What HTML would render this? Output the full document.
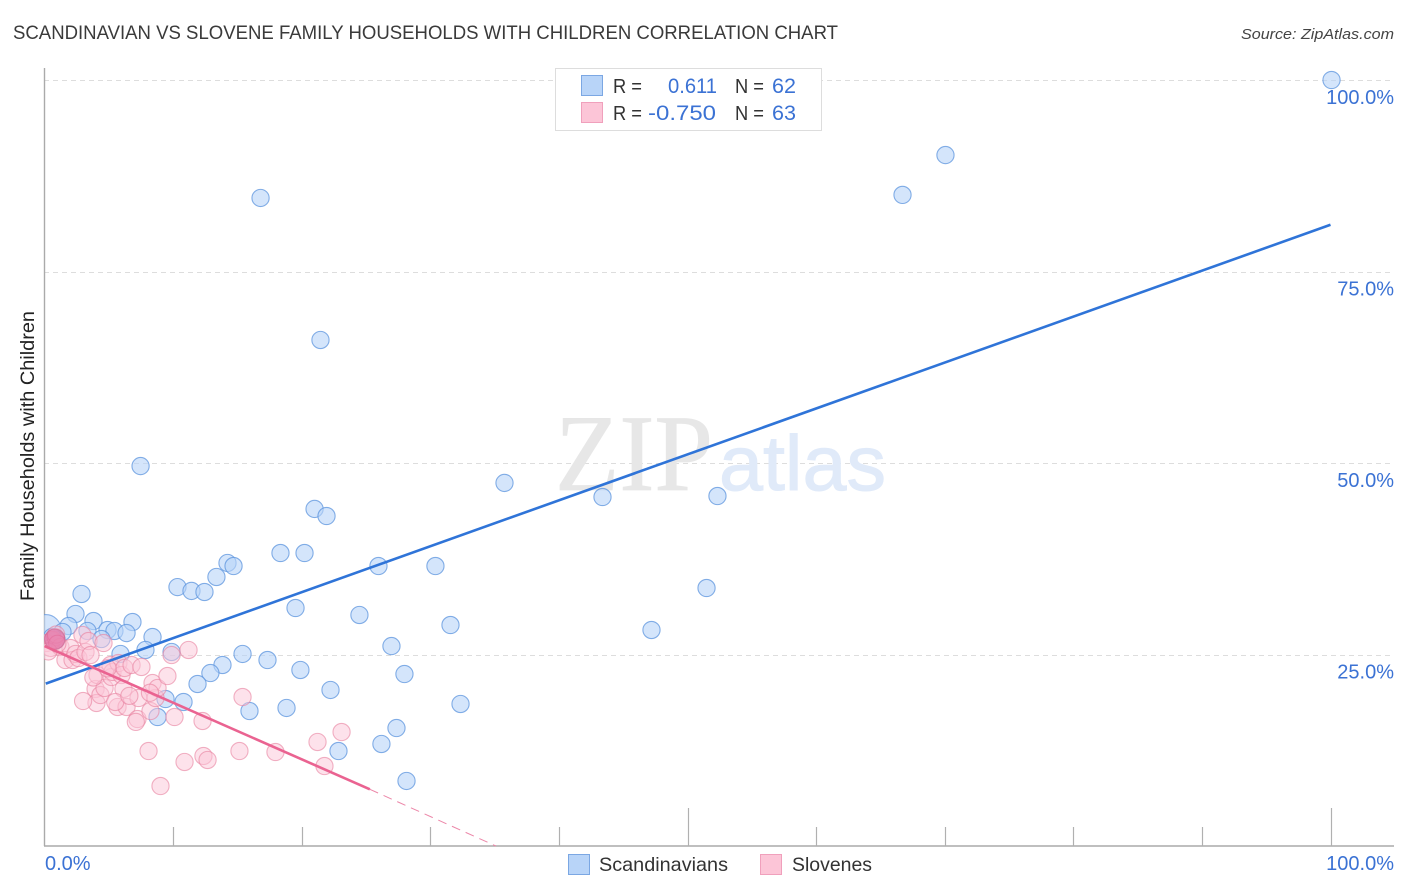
<!DOCTYPE html>
<html lang="en">
<head>
<meta charset="utf-8">
<title>Scandinavian vs Slovene Family Households with Children Correlation Chart</title>
<style>
html,body{margin:0;padding:0;background:#fff;}
body{width:1406px;height:892px;overflow:hidden;}
svg{display:block;font-family:"Liberation Sans",sans-serif;}
</style>
</head>
<body>
<svg id="chart" width="1406" height="892" viewBox="0 0 1406 892" xmlns="http://www.w3.org/2000/svg">
  <defs><clipPath id="plot-clip"><rect x="44" y="60" width="1360" height="786"/></clipPath></defs>
  <rect width="1406" height="892" fill="#ffffff"/>
  <text x="13" y="39" font-size="19.5" fill="#3a3a3a" textLength="825" lengthAdjust="spacingAndGlyphs">SCANDINAVIAN VS SLOVENE FAMILY HOUSEHOLDS WITH CHILDREN CORRELATION CHART</text>
  <text x="1394" y="39" font-size="15" font-style="italic" fill="#444444" text-anchor="end" textLength="153" lengthAdjust="spacingAndGlyphs">Source: ZipAtlas.com</text>
  <text transform="translate(34,456) rotate(-90)" font-size="19" fill="#222222" text-anchor="middle" textLength="290" lengthAdjust="spacingAndGlyphs">Family Households with Children</text>
  <g id="grid"></g>
  <text x="555" y="490" font-family="'Liberation Serif',serif" font-size="109" fill="#e7e7e7" stroke="#e7e7e7" stroke-width="0.8" textLength="158" lengthAdjust="spacingAndGlyphs">ZIP</text>
  <text x="719" y="490" font-size="78" fill="#e0eaf9" stroke="#e0eaf9" stroke-width="1" textLength="167" lengthAdjust="spacingAndGlyphs">atlas</text>
  <g id="axes"></g>
  <g id="points-blue" clip-path="url(#plot-clip)"></g>
  <g id="points-pink" clip-path="url(#plot-clip)"></g>
  <g id="trends"></g>
  <g id="tick-labels"></g>

  <g>
    <rect x="555.5" y="68.5" width="266" height="62" fill="#ffffff" stroke="#dddddd"/>
    <rect x="581.5" y="75.5" width="21" height="20" fill="#b8d4f8" stroke="#7ba7e3"/>
    <rect x="581.5" y="102.5" width="21" height="20" fill="#fcc5d7" stroke="#f0a0bc"/>
    <g font-size="20" fill="#333333">
      <text x="613" y="93" textLength="29" lengthAdjust="spacingAndGlyphs">R =</text>
      <text x="735" y="93" textLength="29" lengthAdjust="spacingAndGlyphs">N =</text>
      <text x="613" y="120" textLength="29" lengthAdjust="spacingAndGlyphs">R =</text>
      <text x="735" y="120" textLength="29" lengthAdjust="spacingAndGlyphs">N =</text>
    </g>
    <g font-size="21.5" fill="#3b72d4">
      <text x="668" y="93" textLength="49" lengthAdjust="spacingAndGlyphs">0.611</text>
      <text x="772" y="93" textLength="24" lengthAdjust="spacingAndGlyphs">62</text>
      <text x="648" y="120" textLength="68" lengthAdjust="spacingAndGlyphs">-0.750</text>
      <text x="772" y="120" textLength="24" lengthAdjust="spacingAndGlyphs">63</text>
    </g>
  </g>

  <g>
    <rect x="568.5" y="854.5" width="21" height="20" fill="#b8d4f8" stroke="#7ba7e3"/>
    <text x="599" y="871" font-size="19.5" fill="#333333" textLength="129" lengthAdjust="spacingAndGlyphs">Scandinavians</text>
    <rect x="760.5" y="854.5" width="21" height="20" fill="#fcc5d7" stroke="#f0a0bc"/>
    <text x="792" y="871" font-size="19.5" fill="#333333" textLength="80" lengthAdjust="spacingAndGlyphs">Slovenes</text>
  </g>
</svg>
<script>
const scandinaviansX = [100.08,70.06,66.72,16.8,21.46,7.47,35.77,43.39,52.33,21.0,21.93,18.35,20.22,14.23,14.7,25.97,30.4,13.37,10.34,11.43,12.44,51.48,2.88,19.52,24.49,2.41,3.81,6.84,31.57,1.87,47.2,3.34,4.9,5.44,6.38,1.4,8.4,4.43,0.93,7.85,9.88,26.98,15.4,5.91,17.34,19.9,27.99,13.84,12.9,11.9,22.24,9.41,10.81,32.35,15.94,18.82,8.79,27.37,26.2,22.86,28.15,0.6];
const scandinaviansY = [100,90.2,85.0,84.6,66.06,49.6,47.4,45.56,45.69,44.0,43.08,38.25,38.25,36.95,36.55,36.55,36.55,35.12,33.8,33.3,33.16,33.68,32.9,31.07,30.16,30.29,29.37,29.24,28.85,28.72,28.2,28.07,28.2,28.07,27.8,27.94,27.28,27.02,26.9,25.59,25.33,26.1,25.07,25.07,24.28,22.98,22.45,23.63,22.58,21.15,20.37,19.19,18.8,18.54,17.62,18.02,16.84,15.4,13.32,12.4,8.49,27.3];
const slovenesX = [0.16,0.47,0.62,0.86,1.24,1.63,2.02,2.18,2.41,2.64,2.95,3.19,3.42,3.58,3.97,4.04,4.12,4.35,4.59,4.67,5.13,5.21,5.29,5.68,5.75,5.99,6.14,6.22,6.38,6.77,7.23,7.31,7.54,8.09,8.24,8.4,8.63,8.79,9.02,9.56,9.88,10.11,10.89,11.2,12.29,12.36,12.68,15.16,15.4,17.96,21.23,21.77,23.1,0.3,0.9,1.0,3.0,4.9,5.5,6.6,7.1,8.2,3.8];
const slovenesY = [26.5,25.85,26.89,27.28,25.98,24.28,25.85,24.28,25.07,24.54,27.55,25.33,26.76,24.93,20.5,18.67,22.32,19.71,26.5,20.63,23.63,22.06,22.72,18.15,23.89,22.32,20.5,23.24,18.15,23.63,16.58,19.32,23.37,12.4,17.62,21.28,19.32,20.63,7.83,22.19,24.93,16.84,10.97,25.59,16.32,11.75,11.23,12.4,19.45,12.27,13.58,10.44,14.88,25.4,27.6,26.4,18.93,23.2,18.8,19.6,16.2,20.0,22.0];
const scandinaviansLargeX = [0.1,0.8];
const scandinaviansLargeY = [28.2,27.0];
const scandinaviansLargeCount = [3.2,1.4];
const slovenesLargeX = [0.8];
const slovenesLargeY = [27.0];
const slovenesLargeCount = [1.4];
const blueTrendX = [0.1,100];
const blueTrendY = [21.2,81.1];
const pinkTrendX = [0,25.3];
const pinkTrendY = [26.1,7.4];
const pinkDashX = [25.3,35.1];
const pinkDashY = [7.4,0];
const xTicks = [0,10,20,30,40,50,60,70,80,90,100];
const yGridValues = [25,50,75,100];
const yTickLabels = ["25.0%","50.0%","75.0%","100.0%"];
const xEndLabels = ["0.0%","100.0%"];

const NS = "http://www.w3.org/2000/svg";
function xScale(v){ return 44.5 + v * 12.86; }
function yScale(v){ return 846 - v * 7.66; }
function make(tag, attrs, parent){
  const el = document.createElementNS(NS, tag);
  for (const k in attrs) el.setAttribute(k, attrs[k]);
  parent.appendChild(el);
  return el;
}

const grid = document.getElementById("grid");
yGridValues.forEach(function(v){
  const y = Math.round(yScale(v)) + 0.5;
  const line = make("line", {x1:44, x2:1394, y1:y, y2:y, stroke:"#dddddd", "stroke-width":1, "stroke-dasharray":"5 4"}, grid);
  
  
});

const axes = document.getElementById("axes");
const yAxis = make("line", {x1:44.5, x2:44.5, y1:68, y2:846, stroke:"#aaaaaa", "stroke-width":1.4}, axes);


const xAxis = make("line", {x1:44, x2:1394, y1:846, y2:846, stroke:"#aaaaaa", "stroke-width":1.4}, axes);


xTicks.forEach(function(v){
  if (v === 0) return;
  const x = Math.round(xScale(v)) + 0.5;
  const major = v === 50 || v === 100;
  const tick = make("line", {x1:x, x2:x, y1:major ? 808 : 827, y2:846, stroke:"#b0b0b0", "stroke-width":1.2}, axes);
  
  
});

function drawPoint(parent, xv, yv, r, fill, stroke, strokeOpacity, fillOpacity){
  const c = make("circle", {cx:xScale(xv), cy:yScale(yv), r:r, fill:fill, "fill-opacity":fillOpacity, stroke:stroke, "stroke-opacity":strokeOpacity, "stroke-width":1.1}, parent);
  return c;
}
const blueGroup = document.getElementById("points-blue");
const pinkGroup = document.getElementById("points-pink");
scandinaviansLargeX.forEach(function(xv, i){
  const c = drawPoint(blueGroup, xv, scandinaviansLargeY[i], 8.6 * Math.sqrt(scandinaviansLargeCount[i]), "#b8d4f8", "#5c94de", 0.7, 0.6);
  
  
});
scandinaviansX.forEach(function(xv, i){
  const c = drawPoint(blueGroup, xv, scandinaviansY[i], 8.6, "#b8d4f8", "#5c94de", 0.75, 0.6);
  
  
});
slovenesX.forEach(function(xv, i){
  const c = drawPoint(pinkGroup, xv, slovenesY[i], 8.6, "#fcc5d7", "#e8809f", 0.6, 0.5);
  
  
});
slovenesLargeX.forEach(function(xv, i){
  const c = drawPoint(pinkGroup, xv, slovenesLargeY[i], 8.6 * Math.sqrt(slovenesLargeCount[i]), "#e0609a", "#c9688f", 0.6, 0.6);
  
  
});

const trends = document.getElementById("trends");
const blueTrend = make("line", {x1:xScale(blueTrendX[0]), y1:yScale(blueTrendY[0]), x2:xScale(blueTrendX[1]), y2:yScale(blueTrendY[1]), stroke:"#2f74d8", "stroke-width":2.6}, trends);


const pinkTrend = make("line", {x1:xScale(pinkTrendX[0]), y1:yScale(pinkTrendY[0]), x2:xScale(pinkTrendX[1]), y2:yScale(pinkTrendY[1]), stroke:"#ea6391", "stroke-width":2.6}, trends);


const pinkDash = make("line", {x1:xScale(pinkDashX[0]), y1:yScale(pinkDashY[0]), x2:xScale(pinkDashX[1]), y2:yScale(pinkDashY[1]), stroke:"#ec86a8", "stroke-width":1, "stroke-dasharray":"9 6"}, trends);



const labels = document.getElementById("tick-labels");
yGridValues.forEach(function(v, i){
  const t = make("text", {x:1394, y:yScale(v) + 24, "font-size":20, fill:"#3b72d4", "text-anchor":"end"}, labels);
  
  
  t.textContent = yTickLabels[i];
});
const x0Label = make("text", {x:45, y:870, "font-size":20, fill:"#3b72d4"}, labels);


x0Label.textContent = xEndLabels[0];
const x1Label = make("text", {x:1394, y:870, "font-size":20, fill:"#3b72d4", "text-anchor":"end"}, labels);


x1Label.textContent = xEndLabels[1];
</script>
</body>
</html>
